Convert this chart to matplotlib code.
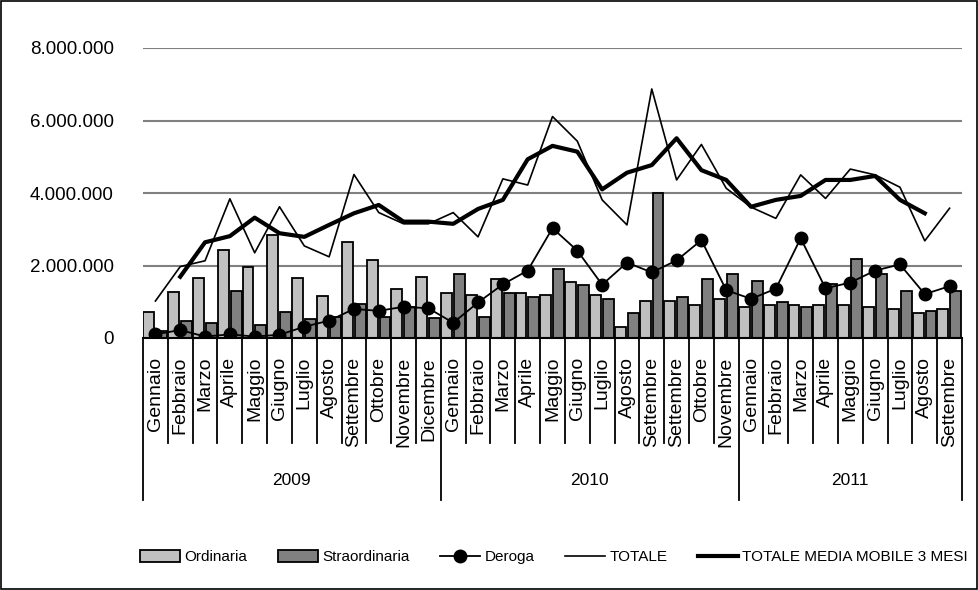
import numpy as np
import matplotlib
matplotlib.use("Agg")
import matplotlib.pyplot as plt
from matplotlib.patches import Rectangle
from matplotlib.lines import Line2D
from matplotlib.ticker import FuncFormatter

# Mesi (33 categorie, come nel grafico originale)
mesi_2009 = ["Gennaio", "Febbraio", "Marzo", "Aprile", "Maggio", "Giugno", "Luglio",
             "Agosto", "Settembre", "Ottobre", "Novembre", "Dicembre"]
mesi_2010 = ["Gennaio", "Febbraio", "Marzo", "Aprile", "Maggio", "Giugno", "Luglio",
             "Agosto", "Settembre", "Settembre", "Ottobre", "Novembre"]
mesi_2011 = ["Gennaio", "Febbraio", "Marzo", "Aprile", "Maggio", "Giugno", "Luglio",
             "Agosto", "Settembre"]
mesi = mesi_2009 + mesi_2010 + mesi_2011
anni = ["2009", "2010", "2011"]

# Valori (milioni di ore)
ordinaria = [0.72, 1.27, 1.65, 2.43, 1.96, 2.84, 1.65, 1.16, 2.65, 2.15, 1.35, 1.69,
             1.25, 1.19, 1.63, 1.25, 1.19, 1.54, 1.19, 0.31, 1.03, 1.03, 0.92, 1.08,
             0.86, 0.92, 0.92, 0.92, 0.92, 0.86, 0.81, 0.70, 0.81]
straordinaria = [0.20, 0.48, 0.42, 1.30, 0.36, 0.71, 0.53, 0.58, 0.95, 0.59, 0.86, 0.55,
                 1.76, 0.59, 1.25, 1.14, 1.90, 1.47, 1.08, 0.70, 4.01, 1.14, 1.63, 1.76,
                 1.58, 0.98, 0.86, 1.48, 2.19, 1.76, 1.31, 0.75, 1.30]
deroga = [0.10, 0.22, 0.04, 0.10, 0.04, 0.09, 0.31, 0.48, 0.80, 0.75, 0.86, 0.82,
          0.42, 0.98, 1.48, 1.86, 3.03, 2.41, 1.47, 2.08, 1.81, 2.14, 2.70, 1.32,
          1.08, 1.36, 2.75, 1.37, 1.53, 1.86, 2.03, 1.21, 1.43]
totale = [1.02, 1.97, 2.13, 3.84, 2.35, 3.62, 2.54, 2.24, 4.51, 3.46, 3.15, 3.15,
          3.46, 2.79, 4.39, 4.22, 6.11, 5.43, 3.81, 3.12, 6.87, 4.36, 5.34, 4.13,
          3.61, 3.30, 4.50, 3.85, 4.66, 4.50, 4.16, 2.68, 3.58]
media_mobile = [np.nan, 1.69, 2.64, 2.81, 3.32, 2.89, 2.79, 3.12, 3.44, 3.67, 3.21, 3.21,
                3.15, 3.56, 3.81, 4.93, 5.30, 5.14, 4.10, 4.56, 4.77, 5.51, 4.63, 4.36,
                3.62, 3.81, 3.92, 4.36, 4.36, 4.47, 3.81, 3.44, np.nan]

M = 1e6
x = np.arange(len(mesi))
ordinaria = np.array(ordinaria) * M
straordinaria = np.array(straordinaria) * M
deroga = np.array(deroga) * M
totale = np.array(totale) * M
media_mobile = np.array(media_mobile) * M

plt.rcParams["font.family"] = ["Liberation Sans", "DejaVu Sans"]

fig = plt.figure(figsize=(9.79, 5.90), dpi=100)
ax = fig.add_axes([143 / 979, 1 - 338 / 590, (962 - 143) / 979, 290 / 590])

w = 0.44
ax.bar(x - 0.27, ordinaria, w, color="#c0c0c0", edgecolor="black", linewidth=1.3, zorder=2)
ax.bar(x + 0.25, straordinaria, w, color="#808080", edgecolor="black", linewidth=1.3, zorder=2)
ax.plot(x, totale, color="black", lw=1.2, zorder=3)
ax.plot(x, media_mobile, color="black", lw=3.0, zorder=3)
ax.plot(x, deroga, color="black", lw=1.3, marker="o", ms=9, zorder=4)

ax.set_xlim(-0.5, len(mesi) - 0.5)
ax.set_ylim(0, 8e6)
ax.set_yticks(np.arange(0, 8e6 + 1, 2e6))
ax.yaxis.set_major_formatter(FuncFormatter(lambda v, p: f"{int(v):,}".replace(",", ".")))
ax.tick_params(axis="y", length=0, labelsize=13.5, pad=21)
ax.set_xticks([])
ax.grid(axis="y", color="#808080", lw=1.5, zorder=0)
ax.set_axisbelow(True)
for s in ["left", "right", "top"]:
    ax.spines[s].set_visible(False)
ax.spines["bottom"].set_linewidth(1.5)

# etichette a due livelli sotto l'asse
tr = ax.get_xaxis_transform()
confini_anno = [0, len(mesi_2009), len(mesi_2009) + len(mesi_2010), len(mesi)]
for k in range(len(mesi) + 1):
    fondo = -0.56 if k in confini_anno else -0.362
    ax.plot([k - 0.5, k - 0.5], [0, fondo], color="black", lw=1.3, transform=tr, clip_on=False)
for i, m in enumerate(mesi):
    ax.text(i, -0.065, m, rotation=90, ha="center", va="top", fontsize=14, transform=tr)
for a, (s, e) in zip(anni, zip(confini_anno[:-1], confini_anno[1:])):
    ax.text((s + e) / 2 - 0.5, -0.49, a, ha="center", va="center", fontsize=12.5, transform=tr)

handles = [
    Rectangle((0, 0), 1, 1, facecolor="#c0c0c0", edgecolor="black", lw=1.3),
    Rectangle((0, 0), 1, 1, facecolor="#808080", edgecolor="black", lw=1.3),
    Line2D([], [], color="black", lw=1.3, marker="o", ms=9),
    Line2D([], [], color="black", lw=1.2),
    Line2D([], [], color="black", lw=3.0),
]
labels = ["Ordinaria", "Straordinaria", "Deroga", "TOTALE", "TOTALE MEDIA MOBILE 3 MESI"]
fig.legend(handles, labels, loc="center", bbox_to_anchor=(554 / 979, 1 - 557 / 590), ncol=5,
           frameon=False, fontsize=11, handlelength=2.6, handletextpad=0.3,
           columnspacing=2.0, handleheight=0.9)

fig.patches.append(Rectangle((0.001, 0.001), 0.997, 0.997, transform=fig.transFigure,
                             fill=False, edgecolor="black", lw=1.2))

fig.savefig("out.png", dpi=100)
